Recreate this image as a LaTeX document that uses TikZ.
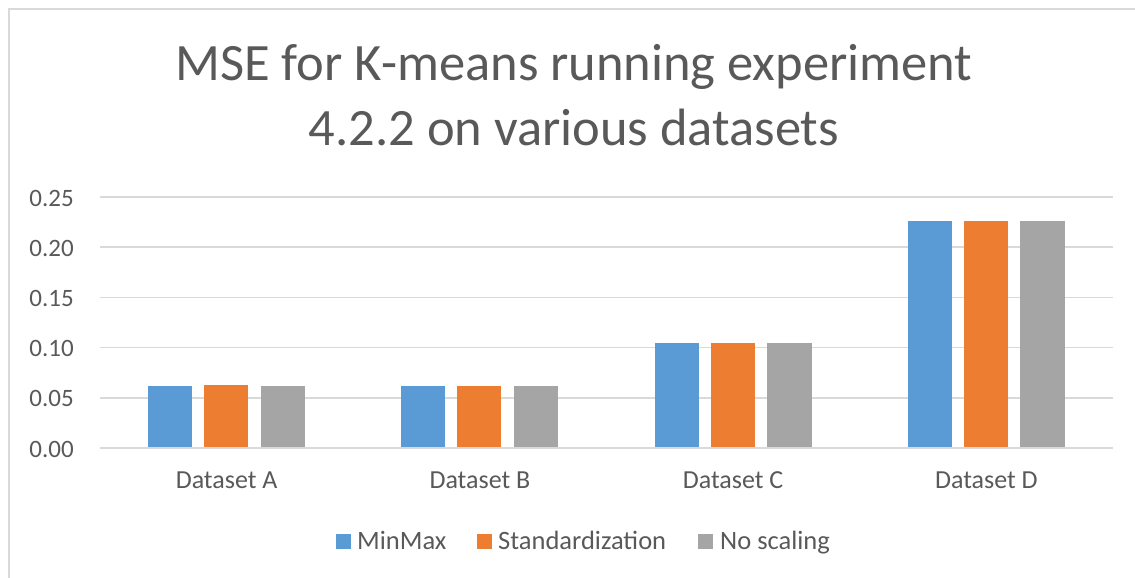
\documentclass[tikz,border=0pt]{standalone}
\usepackage{fontspec}
\setmainfont{Carlito}
\definecolor{txtgray}{HTML}{595959}
\definecolor{gridgray}{HTML}{D9D9D9}
\definecolor{sblue}{HTML}{5B9BD5}
\definecolor{sorange}{HTML}{ED7D31}
\definecolor{sgray}{HTML}{A5A5A5}
\tikzset{
  gridline/.style={draw=gridgray, line width=1.6pt},
  tick/.style={text=txtgray, font=\fontsize{25}{30}\selectfont, anchor=base east, inner sep=0pt},
  catlabel/.style={text=txtgray, font=\fontsize{26}{30}\selectfont, anchor=base, inner sep=0pt},
  legtext/.style={text=txtgray, font=\fontsize{26.5}{30}\selectfont, anchor=base west, inner sep=0pt},
  titletext/.style={text=txtgray, font=\fontsize{52.5}{64}\selectfont, anchor=base, inner sep=0pt},
  bar/.style={fill=#1, draw=none},
  legkey/.style={fill=#1, draw=none, minimum size=15pt, inner sep=0pt, anchor=south west}
}
\begin{document}
\begin{tikzpicture}[x=1pt, y=-1pt]
  \useasboundingbox (0,0) rectangle (1135,578);
  \clip (0,0) rectangle (1135,578);
  % chart area frame
  \draw[draw=gridgray, line width=2pt] (9,9) rectangle (1150,600);
  % title
  \node[titletext] (t1) at (574,81) {MSE for K-means running experiment};
  \node[titletext] (t2) at (574,145) {4.2.2 on various datasets};
  % horizontal grid lines and value labels
  \foreach \v [count=\i from 0] in {0.00,0.05,0.10,0.15,0.20,0.25} {
    \pgfmathsetmacro{\yy}{448-50.2*\i}
    \draw[gridline] (100,\yy) -- (1113,\yy);
    \node[tick] (tick\i) at (74,\yy+9) {\v};
  }
  % bars: MinMax, Standardization, No scaling
  \foreach \cx/\a/\b/\c [count=\k] in {226.6/0.0617/0.0627/0.0617, 479.9/0.0617/0.0617/0.0617, 733.1/0.1046/0.1046/0.1046, 986.4/0.2264/0.2264/0.2264} {
    \fill[bar=sblue]   (\cx-78.5,448) rectangle (\cx-34.5,448-1004*\a);
    \fill[bar=sorange] (\cx-22.5,448) rectangle (\cx+21.5,448-1004*\b);
    \fill[bar=sgray]   (\cx+34,448)   rectangle (\cx+78.5,448-1004*\c);
  }
  \draw[gridline] (100,448) -- (1113,448);
  % category labels
  \node[catlabel] (ca) at (226.6,488) {Dataset A};
  \node[catlabel] (cb) at (479.9,488) {Dataset B};
  \node[catlabel] (cc) at (733.1,488) {Dataset C};
  \node[catlabel] (cd) at (986.4,488) {Dataset D};
  % legend
  \node[legkey=sblue]   (k1) at (336,549) {};
  \node[legtext]        (l1) at (357,549) {MinMax};
  \node[legkey=sorange] (k2) at (477,549) {};
  \node[legtext]        (l2) at (498,549) {Standardization};
  \node[legkey=sgray]   (k3) at (698,549) {};
  \node[legtext]        (l3) at (720,549) {No scaling};
\end{tikzpicture}
\end{document}
